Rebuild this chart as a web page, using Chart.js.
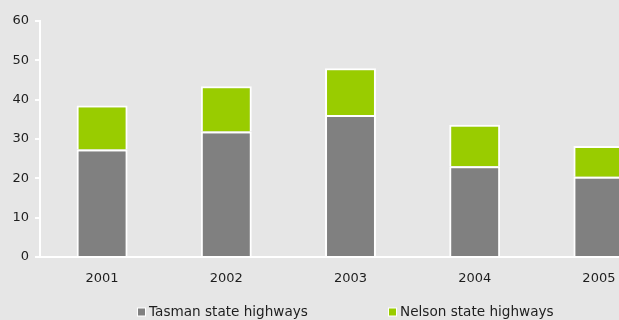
<!DOCTYPE html>
<html>
<head>
<meta charset="utf-8">
<script src="https://cdn.jsdelivr.net/npm/chart.js@4.4.1/dist/chart.umd.min.js"></script>
<style>
    html, body {
        margin: 0;
        padding: 0;
        background: #e6e6e6;
    }
    #wrap {
        width: 619px;
        height: 320px;
        overflow: hidden;
        position: relative;
    }
    #wrap canvas {
        position: absolute;
        left: 0;
        top: 0;
    }
</style>
</head>
<body>
<div id="wrap">
    <canvas id="roadChart" width="680" height="320"></canvas>
</div>
<script>
// Dados
const years = ['2001', '2002', '2003', '2004', '2005'];
const tasmanValues = [27.3, 31.9, 36.1, 23.1, 20.4];
const nelsonValues = [11.2, 11.5, 11.9, 10.5, 7.8];
const yTicks = [0, 10, 20, 30, 40, 50, 60];

const seriesNames = ['Tasman state highways', 'Nelson state highways'];
const seriesColors = ['#808080', '#99cc00'];

const FAMILY = '"DejaVu Sans", Verdana, sans-serif';
const TEXT_COLOR = '#1e1e1e';

// Legenda desenhada no rodapé do canvas
const footerLegend = {
    id: 'footerLegend',
    afterDraw(chart, args, opts) {
        const ctx = chart.ctx;
        ctx.save();
        ctx.font = '13.6px ' + FAMILY;
        ctx.textBaseline = 'middle';
        ctx.textAlign = 'left';
        chart.data.datasets.forEach((ds, i) => {
            const x = opts.starts[i];
            const y = opts.y;
            ctx.fillStyle = '#ffffff';
            ctx.fillRect(x, y - 4.5, 9, 9);
            ctx.fillStyle = ds.backgroundColor;
            ctx.fillRect(x + 1, y - 3.5, 7, 7);
            ctx.fillStyle = TEXT_COLOR;
            ctx.fillText(ds.label, x + 12, y + 0.5);
        });
        ctx.restore();
    }
};

const ctx = document.getElementById('roadChart').getContext('2d');
const roadChart = new Chart(ctx, {
    type: 'bar',
    data: {
        labels: years,
        datasets: [{
            label: seriesNames[0],
            data: tasmanValues,
            backgroundColor: seriesColors[0],
            borderColor: '#ffffff',
            borderWidth: 2
        }, {
            label: seriesNames[1],
            data: nelsonValues,
            backgroundColor: seriesColors[1],
            borderColor: '#ffffff',
            borderWidth: 2
        }]
    },
    options: {
        responsive: false,
        animation: false,
        devicePixelRatio: 1,
        layout: {
            padding: { top: 21, right: 19, bottom: 33, left: 0 }
        },
        datasets: {
            bar: {
                categoryPercentage: 1,
                barPercentage: 0.41
            }
        },
        plugins: {
            legend: { display: false },
            tooltip: { enabled: false },
            footerLegend: { starts: [137, 388], y: 312 }
        },
        scales: {
            x: {
                stacked: true,
                grid: { display: false, drawTicks: false },
                border: { color: '#ffffff', width: 2 },
                ticks: {
                    color: TEXT_COLOR,
                    font: { family: FAMILY, size: 13 },
                    padding: 14,
                    maxRotation: 0
                },
                afterFit(scale) { scale.height = 30; }
            },
            y: {
                stacked: true,
                min: yTicks[0],
                max: yTicks[yTicks.length - 1],
                afterBuildTicks(scale) {
                    scale.ticks = yTicks.map(v => ({ value: v }));
                },
                grid: {
                    drawOnChartArea: false,
                    drawTicks: true,
                    tickLength: 5,
                    color: '#ffffff',
                    lineWidth: 2
                },
                border: { color: '#ffffff', width: 2 },
                ticks: {
                    color: TEXT_COLOR,
                    font: { family: FAMILY, size: 13 },
                    padding: 6
                },
                afterFit(scale) { scale.width = 40; }
            }
        }
    },
    plugins: [footerLegend]
});
</script>
</body>
</html>
